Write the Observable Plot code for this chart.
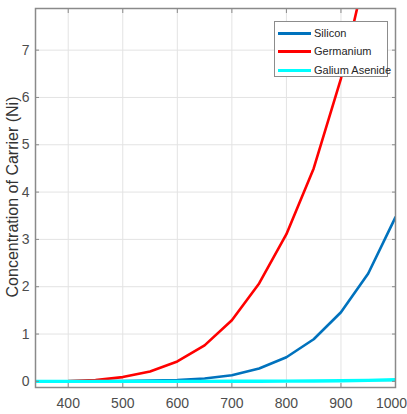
<!DOCTYPE html>
<html>
<head>
<meta charset="utf-8">
<script src="https://cdn.jsdelivr.net/npm/d3@7"></script>
<script src="https://cdn.jsdelivr.net/npm/@observablehq/plot@0.6"></script>
<style>
  html, body { margin: 0; padding: 0; background: #fff; }
  #wrap { position: relative; width: 407px; height: 414px; }
  #legend { position: absolute; left: 274px; top: 21px; width: 114px; height: 56px;
    border: 1px solid #8c8c8c; background: #fff; font-family: "Liberation Sans", Arial, sans-serif;
    font-size: 11px; color: #262626; box-sizing: border-box; }
  .row { position: absolute; left: 3px; height: 14px; display: flex; align-items: center; white-space: nowrap; }
  .sw { width: 33px; height: 3px; margin-right: 3px; flex: none; }
</style>
</head>
<body>
<div id="wrap"></div>
<script>
const temps = [300, 350, 400, 450, 500, 550, 600, 650, 700, 750, 800, 850, 900, 950, 1000];
const silicon = [0.0005, 0.001, 0.002, 0.004, 0.008, 0.015, 0.03, 0.06, 0.13, 0.27, 0.51, 0.89, 1.46, 2.28, 3.47];
const germanium = [0.001, 0.003, 0.008, 0.03, 0.09, 0.21, 0.42, 0.76, 1.29, 2.07, 3.11, 4.5, 6.4, 8.9, 12];
const gaas = [0, 0, 0, 0, 0, 0, 0, 0, 0.001, 0.002, 0.004, 0.007, 0.012, 0.02, 0.035];
const seriesNames = ["Silicon", "Germanium", "Galium Asenide"];
const seriesColors = ["#0072BD", "#FF0000", "#00FFFF"];
const xTicks = [400, 500, 600, 700, 800, 900, 1000];
const yTicks = [0, 1, 2, 3, 4, 5, 6, 7];

const rows = [];
[silicon, germanium, gaas].forEach((vals, i) => {
  temps.forEach((t, j) => rows.push({series: seriesNames[i], t, v: vals[j]}));
});

const grid = "#e3e3e3";
const axisColor = "#8a8a8a";
const fmt = d => String(d);
const chart = Plot.plot({
  width: 407,
  height: 414,
  marginLeft: 35,
  marginRight: 12,
  marginTop: 8,
  marginBottom: 27,
  style: {fontFamily: "'Liberation Sans', Arial, sans-serif", fontSize: "14px", color: "#4d4d4d", background: "#fff"},
  x: {domain: [340, 1000]},
  y: {domain: [-0.13, 7.88]},
  color: {domain: seriesNames, range: seriesColors},
  marks: [
    Plot.gridX(xTicks, {stroke: grid, strokeOpacity: 1}),
    Plot.gridY(yTicks, {stroke: grid, strokeOpacity: 1}),
    Plot.line(rows.filter(r => r.series !== "Galium Asenide"), {x: "t", y: "v", z: "series", stroke: "series", strokeWidth: 2.6, clip: true}),
    Plot.line(rows.filter(r => r.series === "Galium Asenide"), {x: "t", y: "v", stroke: "series", strokeWidth: 3.4, clip: true}),
    Plot.axisX(xTicks.slice(0, -1), {anchor: "bottom", tickSize: 0, tickPadding: 11, label: null, fontSize: 14, tickFormat: fmt}),
    Plot.axisX(xTicks.slice(-1), {anchor: "bottom", tickSize: 0, tickPadding: 11, label: null, fontSize: 14, tickFormat: fmt, dx: -4}),
    Plot.axisX(xTicks, {anchor: "bottom", tickSize: -4, text: null, stroke: axisColor, label: null}),
    Plot.axisX(xTicks, {anchor: "top", tickSize: -4, text: null, stroke: axisColor, label: null}),
    Plot.axisY(yTicks, {anchor: "left", tickSize: 0, tickPadding: 6, label: null, fontSize: 14}),
    Plot.axisY(yTicks, {anchor: "left", tickSize: -4, text: null, stroke: axisColor, label: null}),
    Plot.axisY(yTicks, {anchor: "right", tickSize: -4, text: null, stroke: axisColor, label: null}),
    Plot.frame({stroke: axisColor, strokeWidth: 1.5})
  ]
});
const wrap = document.getElementById("wrap");
wrap.appendChild(chart);

// y axis title
const svg = d3.select(chart);
svg.append("text")
  .attr("transform", `translate(14,197) rotate(-90)`)
  .attr("text-anchor", "middle")
  .attr("dominant-baseline", "middle")
  .attr("fill", "#333")
  .style("font-size", "16px")
  .text("Concentration of Carrier (Ni)");

// legend
const legend = document.createElement("div");
legend.id = "legend";
const ys = [4, 22, 41];
seriesNames.forEach((n, i) => {
  const r = document.createElement("div");
  r.className = "row";
  r.style.top = ys[i] + "px";
  r.innerHTML = `<span class="sw" style="background:${seriesColors[i]}"></span><span>${n}</span>`;
  legend.appendChild(r);
});
wrap.appendChild(legend);
</script>
</body>
</html>
